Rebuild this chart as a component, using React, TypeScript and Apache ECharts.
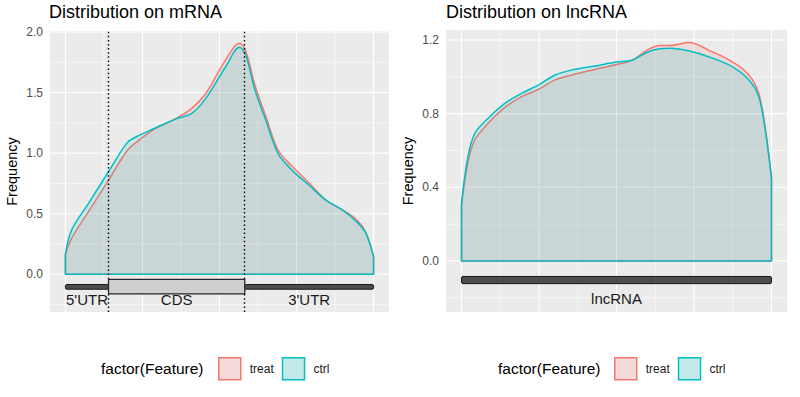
import React, { useEffect, useRef } from "react";
import * as echarts from "echarts";

// ---- data ----
const mrnaT = [0, 0.02, 0.075, 0.14, 0.2, 0.23, 0.29, 0.355, 0.41, 0.455, 0.52, 0.565, 0.585, 0.615, 0.65, 0.69, 0.735, 0.79, 0.845, 0.9, 0.945, 0.975, 1.0];
const mrnaTreat = [0.16, 0.297, 0.517, 0.778, 1.02, 1.09, 1.2, 1.28, 1.37, 1.49, 1.77, 1.906, 1.845, 1.56, 1.306, 1.026, 0.893, 0.756, 0.613, 0.53, 0.45, 0.345, 0.145];
const mrnaCtrl = [0.167, 0.365, 0.586, 0.847, 1.085, 1.135, 1.205, 1.279, 1.328, 1.45, 1.713, 1.873, 1.81, 1.52, 1.273, 0.998, 0.86, 0.737, 0.613, 0.53, 0.434, 0.338, 0.145];

const lncT = [0, 0.02, 0.043, 0.086, 0.14, 0.194, 0.248, 0.302, 0.356, 0.431, 0.5, 0.55, 0.603, 0.64, 0.674, 0.735, 0.797, 0.873, 0.927, 0.959, 0.98, 0.993, 1.0];
const lncTreat = [0.3, 0.53, 0.657, 0.748, 0.834, 0.892, 0.932, 0.983, 1.01, 1.04, 1.067, 1.09, 1.149, 1.17, 1.17, 1.186, 1.145, 1.082, 1.01, 0.91, 0.72, 0.55, 0.45];
const lncCtrl = [0.313, 0.56, 0.693, 0.775, 0.856, 0.91, 0.955, 1.01, 1.037, 1.059, 1.08, 1.09, 1.136, 1.152, 1.155, 1.14, 1.109, 1.055, 0.983, 0.892, 0.711, 0.55, 0.45];

const mrnaRegionNames = ["5'UTR", "CDS", "3'UTR"];
const mrnaRegionKinds = ["utr", "cds", "utr"];
const mrnaBounds = [0, 0.14, 0.582, 1];
const lncRegionNames = ["lncRNA"];
const lncRegionKinds = ["utr"];
const lncBounds = [0, 1];

const mrnaYTicks = [0, 0.5, 1.0, 1.5, 2.0];
const mrnaYMinor = [-0.25, 0.25, 0.75, 1.25, 1.75];
const lncYTicks = [0, 0.4, 0.8, 1.2];
const lncYMinor = [-0.2, 0.2, 0.6, 1.0];
const xMajor = [0, 0.25, 0.5, 0.75, 1];
const xMinor = [0.125, 0.375, 0.625, 0.875];

const seriesNames = ["treat", "ctrl"];
const lineColors = ["#F8766D", "#00BFC4"];
const fillColors = ["rgba(248,118,109,0.2)", "rgba(0,191,196,0.2)"];
const swatchColors = ["#F3D9D7", "#C2E8E9"];

const FONT = "'Liberation Sans', Arial, Helvetica, sans-serif";

function pairs(t: number[], v: number[]) {
  return t.map((x, i) => [x, v[i]]);
}

function gridData(yMaj: number[], yMin: number[]) {
  const d: number[][] = [];
  xMinor.forEach((v) => d.push([v, 0, 0]));
  yMin.forEach((v) => d.push([v, 1, 0]));
  xMajor.forEach((v) => d.push([v, 0, 1]));
  yMaj.forEach((v) => d.push([v, 1, 1]));
  return d;
}

function gridRender(params: any, api: any) {
  const cs = params.coordSys;
  const v = api.value(0);
  const dir = api.value(1);
  const major = api.value(2);
  const style = { stroke: "#FFFFFF", lineWidth: major ? 1.1 : 0.55 };
  if (dir === 0) {
    const p = api.coord([v, 0]);
    return { type: "line", shape: { x1: p[0], y1: cs.y, x2: p[0], y2: cs.y + cs.height }, style };
  }
  const p = api.coord([0, v]);
  return { type: "line", shape: { x1: cs.x, y1: p[1], x2: cs.x + cs.width, y2: p[1] }, style };
}

function structRender(names: string[], kinds: string[]) {
  return (params: any, api: any) => {
    const i = params.dataIndex;
    const s = api.value(0);
    const e = api.value(1);
    const kind = kinds[i];
    const children: any[] = [];
    if (kind === "cds") {
      const a = api.coord([s, -0.041]);
      const b = api.coord([e, -0.162]);
      children.push({
        type: "rect",
        shape: { x: a[0], y: a[1], width: b[0] - a[0], height: b[1] - a[1] },
        style: { fill: "#CFCFCF", stroke: "#262626", lineWidth: 1.2 },
      });
    } else {
      const a = api.coord([s, -0.084]);
      const b = api.coord([e, -0.123]);
      children.push({
        type: "rect",
        shape: { x: a[0], y: a[1], width: b[0] - a[0], height: b[1] - a[1], r: 1.5 },
        style: { fill: "#4D4D4D", stroke: "#1A1A1A", lineWidth: 1 },
      });
    }
    const c = api.coord([(s + e) / 2, -0.205]);
    children.push({
      type: "text",
      x: c[0],
      y: c[1],
      style: {
        text: names[i],
        fill: "#1A1A1A",
        fontSize: 15,
        fontFamily: FONT,
        align: "center",
        verticalAlign: "middle",
      },
    });
    return { type: "group", children, z2: kind === "cds" ? 10 : 5 };
  };
}

function regionData(bounds: number[]) {
  return bounds.slice(0, -1).map((b, i) => [b, bounds[i + 1]]);
}

function panelSeries(
  gi: number,
  t: number[],
  treat: number[],
  ctrl: number[],
  yMaj: number[],
  yMin: number[],
  names: string[],
  kinds: string[],
  bounds: number[],
  showMarks: boolean
) {
  const vals = [treat, ctrl];
  const out: any[] = [
    {
      type: "custom",
      name: "grid" + gi,
      xAxisIndex: gi,
      yAxisIndex: gi,
      renderItem: gridRender,
      data: gridData(yMaj, yMin),
      silent: true,
      z: 1,
    },
  ];
  vals.forEach((v, k) => {
    const s: any = {
      type: "line",
      name: seriesNames[k],
      xAxisIndex: gi,
      yAxisIndex: gi,
      data: pairs(t, v),
      smooth: 0.35,
      showSymbol: false,
      symbol: "none",
      lineStyle: { color: lineColors[k], width: 1.5 },
      itemStyle: { color: lineColors[k] },
      areaStyle: { color: fillColors[k] },
      z: 2 + k,
      silent: true,
    };
    if (k === 1 && showMarks) {
      s.markLine = {
        silent: true,
        symbol: ["none", "none"],
        label: { show: false },
        lineStyle: { color: "#000000", type: [1.5, 2.6], width: 1.4 },
        data: bounds.slice(1, -1).map((x) => ({ xAxis: x })),
      };
    }
    out.push(s);
    out.push({
      type: "line",
      name: seriesNames[k] + "-edge" + gi,
      xAxisIndex: gi,
      yAxisIndex: gi,
      data: [
        [t[0], v[0]],
        [t[0], 0],
        [t[t.length - 1], 0],
        [t[t.length - 1], v[v.length - 1]],
      ],
      showSymbol: false,
      symbol: "none",
      lineStyle: { color: lineColors[k], width: 1.5 },
      z: 2 + k,
      silent: true,
    });
  });
  out.push({
    type: "custom",
    name: "struct" + gi,
    xAxisIndex: gi,
    yAxisIndex: gi,
    renderItem: structRender(names, kinds),
    data: regionData(bounds),
    silent: true,
    z: 6,
  });
  return out;
}

function yAxisOpt(gi: number, min: number, max: number, ticks: number[]) {
  return {
    gridIndex: gi,
    type: "value",
    min,
    max,
    name: "Frequency",
    nameLocation: "middle",
    nameGap: 31,
    nameTextStyle: { fontSize: 14.5, color: "#000000", fontFamily: FONT },
    axisLine: { show: false },
    axisTick: { show: false },
    splitLine: { show: false },
    axisLabel: {
      customValues: ticks,
      formatter: (v: number) => v.toFixed(1),
      fontSize: 12,
      color: "#4D4D4D",
      margin: 7,
      fontFamily: FONT,
    },
  };
}

function legendOpt(left: number) {
  return {
    left,
    top: 357,
    padding: 0,
    orient: "horizontal",
    icon: "rect",
    itemWidth: 22,
    itemHeight: 22,
    itemGap: 8,
    selectedMode: false,
    textStyle: { fontSize: 12, color: "#1A1A1A", fontFamily: FONT, padding: [0, 0, 0, 4] },
    data: seriesNames.map((n, k) => ({
      name: n,
      itemStyle: { color: swatchColors[k], borderColor: lineColors[k], borderWidth: 1.5 },
    })),
  };
}

export default function App() {
  const ref = useRef<HTMLDivElement>(null);
  useEffect(() => {
    if (!ref.current) return;
    const chart = echarts.init(ref.current, undefined, { renderer: "svg" });
    const titleStyle = { fontSize: 18, fontWeight: "normal", color: "#000000", fontFamily: FONT };
    const option: any = {
      animation: false,
      backgroundColor: "#FFFFFF",
      textStyle: { fontFamily: FONT },
      title: [
        { text: "Distribution on mRNA", left: 49, top: 3, padding: 0, textStyle: titleStyle },
        { text: "Distribution on lncRNA", left: 446, top: 3, padding: 0, textStyle: titleStyle },
      ],
      grid: [
        { left: 50, top: 31, width: 339, height: 281, show: true, backgroundColor: "#EBEBEB", borderWidth: 0 },
        { left: 446, top: 30, width: 341, height: 282, show: true, backgroundColor: "#EBEBEB", borderWidth: 0 },
      ],
      xAxis: [
        { gridIndex: 0, type: "value", min: -0.05, max: 1.05, show: false },
        { gridIndex: 1, type: "value", min: -0.05, max: 1.05, show: false },
      ],
      yAxis: [yAxisOpt(0, -0.311, 2.008, mrnaYTicks), yAxisOpt(1, -0.277, 1.254, lncYTicks)],
      legend: [legendOpt(218), legendOpt(614)],
      graphic: [
        { type: "text", left: 101, top: 360, style: { text: "factor(Feature)", fontSize: 15.5, fill: "#000000", fontFamily: FONT } },
        { type: "text", left: 498, top: 360, style: { text: "factor(Feature)", fontSize: 15.5, fill: "#000000", fontFamily: FONT } },
      ],
      series: [
        ...panelSeries(0, mrnaT, mrnaTreat, mrnaCtrl, mrnaYTicks, mrnaYMinor, mrnaRegionNames, mrnaRegionKinds, mrnaBounds, true),
        ...panelSeries(1, lncT, lncTreat, lncCtrl, lncYTicks, lncYMinor, lncRegionNames, lncRegionKinds, lncBounds, false),
      ],
    };
    chart.setOption(option);
    return () => chart.dispose();
  }, []);
  return <div ref={ref} style={{ position: "fixed", left: 0, top: 0, width: 800, height: 397 }} />;
}
